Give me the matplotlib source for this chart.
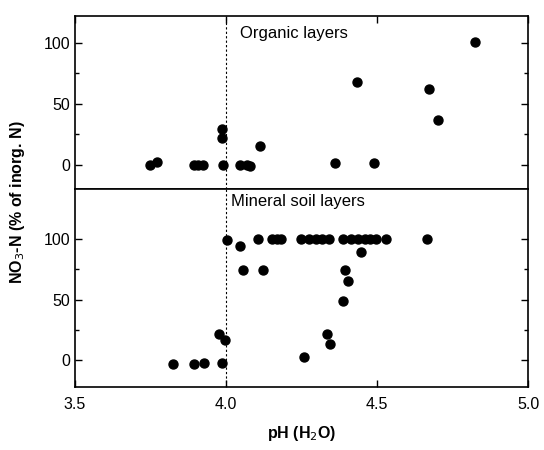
import matplotlib
matplotlib.use("Agg")
import matplotlib.pyplot as plt
from matplotlib.ticker import FixedLocator

plt.rcParams['font.family'] = ['Liberation Sans', 'DejaVu Sans']

# organic layers: pH and NO3-N share
org_ph = [3.749, 3.772, 3.893, 3.906, 3.923, 3.991, 3.988, 3.988, 4.046, 4.068,
          4.079, 4.111, 4.361, 4.434, 4.491, 4.672, 4.702, 4.824]
org_no3 = [0, 2, 0, 0, 0, 0, 29, 22, 0, 0,
           -1, 15, 1, 68, 1, 62, 37, 101]

# mineral soil layers
min_ph = [4.004, 4.045, 4.104, 4.055, 4.121,
          4.152, 4.169, 4.183, 4.247, 4.275, 4.298, 4.318, 4.342,
          4.387, 4.412, 4.437, 4.460, 4.477, 4.497, 4.530, 4.664,
          4.445, 4.393, 4.402, 4.387, 4.333, 4.345, 4.258,
          3.978, 3.996, 3.987, 3.824, 3.895, 3.926]
min_no3 = [99, 94, 100, 74, 74,
           100, 100, 100, 100, 100, 100, 100, 100,
           100, 100, 100, 100, 100, 100, 100, 100,
           89, 74, 65, 49, 22, 13, 3,
           22, 17, -2, -3, -3, -2]

fig = plt.figure(figsize=(5.44, 4.5), dpi=100)
ax1 = fig.add_axes([0.138, 0.58, 0.833, 0.384])
ax2 = fig.add_axes([0.138, 0.14, 0.833, 0.44], sharex=ax1)

for ax in (ax1, ax2):
    ax.axvline(4.0, color='black', lw=0.8, ls=(0, (2, 2)), zorder=1)
    for sp in ax.spines.values():
        sp.set_linewidth(1.2)
    ax.tick_params(direction='in', which='both', top=True, right=True,
                   labelsize=11.5, width=1.0)
    ax.tick_params(which='major', length=5)
    ax.tick_params(which='minor', length=3)
    ax.yaxis.set_major_locator(FixedLocator([0, 50, 100]))
    ax.yaxis.set_minor_locator(FixedLocator([25, 75]))

# no ticks along the shared border
ax1.tick_params(which='both', bottom=False, labelbottom=False)
ax2.tick_params(which='both', top=False)
ax2.tick_params(axis='x', pad=7)

ax1.scatter(org_ph, org_no3, s=42, color='black', zorder=3)
ax2.scatter(min_ph, min_no3, s=42, color='black', zorder=3)

ax1.set_xlim(3.5, 5.0)
ax1.set_ylim(-20, 122)
ax2.set_ylim(-22, 141)
ax1.set_xticks([3.5, 4.0, 4.5, 5.0])
ax2.set_xticklabels(['3.5', '4.0', '4.5', '5.0'])

ax1.text(4.045, 108, 'Organic layers', fontsize=12, va='center')
ax2.text(4.016, 131, 'Mineral soil layers', fontsize=12, va='center')

ax2.set_xlabel('pH (H$_2$O)', fontsize=11.5, fontweight='bold', labelpad=9)
fig.text(0.032, 0.55, 'NO$_3$-N (% of inorg. N)', rotation=90, fontsize=11.5,
         fontweight='bold', ha='center', va='center')

fig.savefig('out.png', dpi=100)
